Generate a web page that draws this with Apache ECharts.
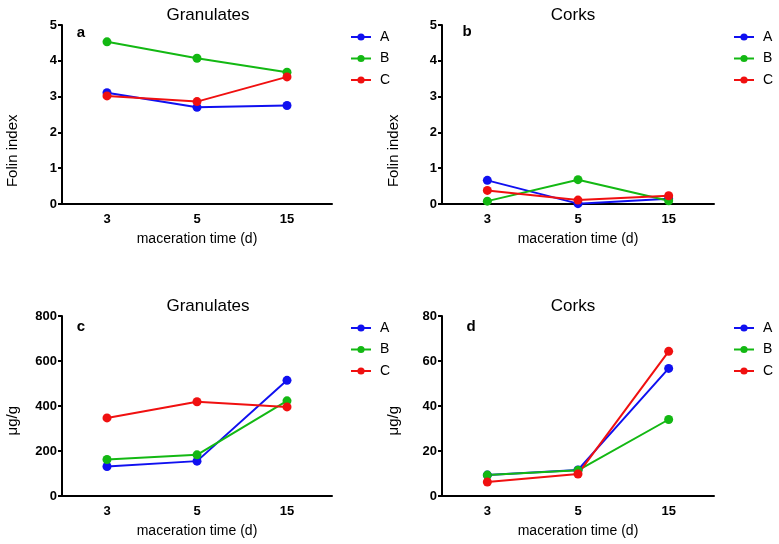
<!DOCTYPE html>
<html>
<head>
<meta charset="utf-8">
<script src="https://cdn.jsdelivr.net/npm/echarts@6/dist/echarts.min.js"></script>
<style>html,body{margin:0;padding:0;background:#fff;}#chart{width:779px;height:544px;}</style>
</head>
<body>
<div id="chart"></div>
<script>
var categories = ['3', '5', '15'];
var seriesNames = ['A', 'B', 'C'];
var panelTitles = ['Granulates', 'Corks', 'Granulates', 'Corks'];
var panelLetters = ['a', 'b', 'c', 'd'];
var yAxisNames = ['Folin index', 'Folin index', 'μg/g', 'μg/g'];
var yMax = [5, 5, 800, 80];
var yInterval = [1, 1, 200, 20];

// Panel a: Granulates, Folin index
var aA = [3.11, 2.70, 2.75];
var aB = [4.53, 4.07, 3.68];
var aC = [3.02, 2.86, 3.55];
// Panel b: Corks, Folin index
var bA = [0.66, 0.01, 0.15];
var bB = [0.08, 0.68, 0.09];
var bC = [0.38, 0.11, 0.23];
// Panel c: Granulates, μg/g
var cA = [131, 155, 514];
var cB = [162, 183, 423];
var cC = [347, 419, 396];
// Panel d: Corks, μg/g
var dA = [9.3, 11.6, 56.7];
var dB = [9.3, 11.4, 34.0];
var dC = [6.2, 9.8, 64.3];

var panelData = [[aA, aB, aC], [bA, bB, bC], [cA, cB, cC], [dA, dB, dC]];
var colors = ['#1010f0', '#13b813', '#f01010'];

var grids = [
  {left: 62, top: 25, width: 270, height: 179},
  {left: 442, top: 25, width: 272, height: 179},
  {left: 62, top: 316, width: 270, height: 180},
  {left: 442, top: 316, width: 272, height: 180}
];
var titlePos = [[208, 7], [573, 7], [208, 298], [573, 298]];
var letterPos = [[81, 25], [467, 24], [81, 319], [471, 319]];
var legendPos = [[350, 30], [733, 30], [350, 321], [733, 321]];
var yNamePos = [13, 394, 13, 394];

var FONT = '"Liberation Sans", Arial, sans-serif';
var option = {
  animation: false,
  backgroundColor: '#fff',
  title: [],
  legend: [],
  grid: [],
  xAxis: [],
  yAxis: [],
  series: [],
  graphic: []
};

for (var p = 0; p < 4; p++) {
  option.grid.push(grids[p]);
  option.title.push({
    text: panelTitles[p], left: titlePos[p][0], top: titlePos[p][1], textAlign: 'center', padding: 0,
    textStyle: {fontFamily: FONT, fontSize: 17, fontWeight: 'normal', color: '#000'}
  });
  option.title.push({
    text: panelLetters[p], left: letterPos[p][0], top: letterPos[p][1], textAlign: 'center', padding: 0,
    textStyle: {fontFamily: FONT, fontSize: 15, fontWeight: 'bold', color: '#000'}
  });
  option.legend.push({
    data: seriesNames, orient: 'vertical', left: legendPos[p][0], top: legendPos[p][1],
    itemWidth: 20, itemHeight: 9, itemGap: 7.5, padding: 0,
    textStyle: {fontFamily: FONT, fontSize: 14, color: '#000', padding: [0, 0, 0, 4]}
  });
  option.xAxis.push({
    type: 'category', gridIndex: p, data: categories, boundaryGap: true,
    name: 'maceration time (d)', nameLocation: 'middle', nameGap: 28,
    nameTextStyle: {fontFamily: FONT, fontSize: 14, color: '#000'},
    axisLine: {lineStyle: {color: '#000', width: 2}},
    axisTick: {alignWithLabel: true, length: 5, lineStyle: {color: '#000', width: 2}},
    axisLabel: {fontFamily: FONT, fontSize: 13, fontWeight: 'bold', color: '#000', margin: 9},
    splitLine: {show: false}
  });
  option.yAxis.push({
    type: 'value', gridIndex: p, min: 0, max: yMax[p], interval: yInterval[p],
    axisLine: {show: true, lineStyle: {color: '#000', width: 2}},
    axisTick: {show: true, length: 4, lineStyle: {color: '#000', width: 2}},
    axisLabel: {fontFamily: FONT, fontSize: 13, fontWeight: 'bold', color: '#000', margin: 5},
    splitLine: {show: false}
  });
  option.graphic.push({
    type: 'text', left: yNamePos[p] - 8, top: grids[p].top + grids[p].height / 2, rotation: Math.PI / 2,
    style: {text: yAxisNames[p], fontFamily: FONT, fontSize: 15, fill: '#000', textAlign: 'center', textVerticalAlign: 'middle'}
  });
  for (var s = 0; s < 3; s++) {
    option.series.push({
      type: 'line', name: seriesNames[s], xAxisIndex: p, yAxisIndex: p,
      data: panelData[p][s], symbol: 'circle', symbolSize: 9,
      lineStyle: {color: colors[s], width: 2}, itemStyle: {color: colors[s]}
    });
  }
}
var chart = echarts.init(document.getElementById('chart'), null, {renderer: 'canvas'});
chart.setOption(option);
</script>
</body>
</html>
